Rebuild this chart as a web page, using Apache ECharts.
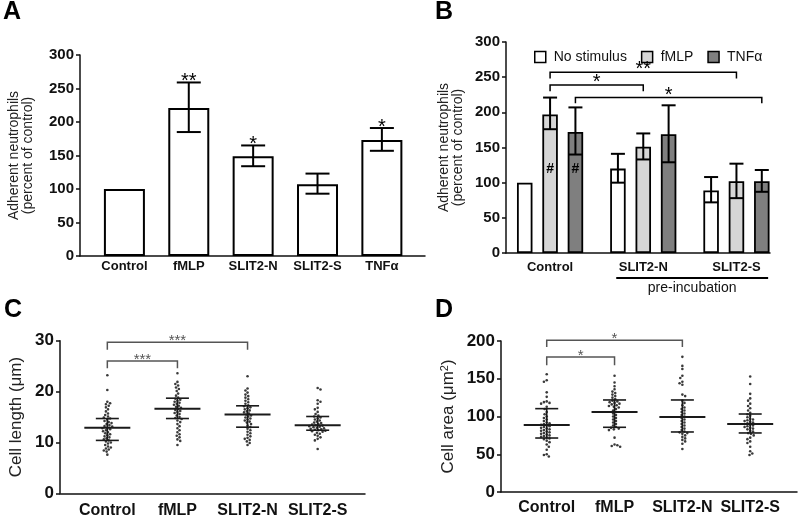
<!DOCTYPE html>
<html>
<head>
<meta charset="utf-8">
<script src="https://cdn.jsdelivr.net/npm/echarts@6/dist/echarts.min.js"></script>
<style>
  html, body { margin: 0; padding: 0; background: #fff; }
  #main { width: 800px; height: 523px; }
</style>
</head>
<body>
<div id="main"></div>
<script>
const FONT = '"Liberation Sans", Arial, sans-serif'

// ---- panel A: adherent neutrophils by stimulus ----
const catsA = ['Control', 'fMLP', 'SLIT2-N', 'SLIT2-S', 'TNFα']
const valuesA = [100, 221, 149, 107, 173]
const lowA = [null, 185, 134, 93, 157]
const highA = [null, 259, 165, 123, 191]
const starsA = ['', '**', '*', '', '*']

// ---- panel B: pre-incubation ----
const groupsB = ['Control', 'SLIT2-N', 'SLIT2-S']
const legendB = ['No stimulus', 'fMLP', 'TNFα']
const noStimB = [100, 120, 89]
const noStimLowB = [null, 100, 72]
const noStimHighB = [null, 141, 108]
const fmlpB = [197, 151, 102]
const fmlpLowB = [176, 133, 78]
const fmlpHighB = [221, 170, 127]
const tnfB = [172, 169, 102]
const tnfLowB = [140, 129, 87]
const tnfHighB = [207, 210, 118]
const hashB = [[0, 1, 119], [0, 2, 119]] // group, bar, y
// group from, bar from, group to, bar to, bracket y, tip y, text
const sigB = [
  [0, 1, 2, 1, 257, 248, '**'],
  [0, 1, 1, 1, 239, 230, '*'],
  [0, 2, 2, 2, 221, 213, '*'],
]
const preIncubation = [0.71, 2.34]

// ---- panel C: cell length ----
const catsC = ['Control', 'fMLP', 'SLIT2-N', 'SLIT2-S']
const lenControl = [23.2, 20.3, 18.0, 17.7, 17.5, 17.2, 16.9, 16.5, 16.1, 15.7, 15.4, 15.1, 14.9, 14.7, 14.5, 14.2, 14.0, 13.8, 13.6, 13.4, 13.2, 13.1, 12.9, 12.8, 12.6, 12.4, 12.2, 12.0, 11.8, 11.6, 11.4, 11.2, 11.0, 10.8, 10.6, 10.4, 10.2, 10.0, 9.8, 9.5, 9.2, 9.0, 8.8, 8.6, 8.4, 8.2, 7.6]
const lenFmlp = [23.6, 21.9, 21.5, 21.2, 20.8, 20.5, 20.1, 19.6, 19.2, 18.8, 18.6, 18.4, 18.2, 18.0, 17.8, 17.6, 17.4, 17.2, 17.0, 16.8, 16.6, 16.4, 16.2, 16.0, 15.8, 15.6, 15.3, 15.0, 14.8, 14.6, 14.3, 14.0, 13.6, 13.2, 12.8, 12.4, 12.0, 11.6, 11.3, 11.0, 10.6, 10.3, 9.5]
const lenSlitN = [23.0, 20.6, 20.2, 19.8, 19.4, 19.1, 18.8, 18.5, 18.2, 17.9, 17.6, 17.3, 17.1, 16.9, 16.7, 16.5, 16.3, 16.1, 15.9, 15.7, 15.5, 15.3, 15.1, 14.9, 14.7, 14.5, 14.3, 14.1, 13.9, 13.6, 13.3, 13.0, 12.7, 12.4, 12.1, 11.8, 11.5, 11.2, 10.9, 10.7, 10.5, 10.2, 9.9, 9.5]
const lenSlitS = [20.7, 20.4, 18.3, 18.0, 17.6, 16.8, 16.5, 16.0, 15.6, 15.3, 15.1, 14.9, 14.7, 14.5, 14.3, 14.1, 13.9, 13.8, 13.6, 13.5, 13.4, 13.3, 13.2, 13.1, 13.0, 12.9, 12.8, 12.7, 12.6, 12.5, 12.4, 12.3, 12.2, 12.1, 11.9, 11.7, 11.5, 11.3, 11.0, 10.7, 10.4, 8.7]
const meanC = [12.9, 16.6, 15.5, 13.4]
const sdLowC = [10.4, 14.7, 13.0, 12.4]
const sdHighC = [14.7, 18.7, 17.2, 15.1]
const sigC = [[0, 2, 29.7, 28.2, '***'], [0, 1, 26.0, 24.6, '***']]

// ---- panel D: cell area ----
const areaControl = [156, 148, 146, 132, 126, 120, 119, 118, 117, 113, 110, 106, 103, 100, 98, 96, 94, 92, 91, 90, 89, 88, 87, 86, 85, 84, 83, 82, 81, 80, 79, 78, 77, 76, 75, 74, 73, 72, 71, 70, 68, 66, 63, 60, 56, 50, 49, 47]
const areaFmlp = [154, 145, 140, 136, 133, 131, 129, 127, 125, 123, 121, 120, 119, 118, 117, 116, 115, 114, 113, 112, 110, 108, 106, 104, 102, 100, 98, 96, 94, 92, 90, 88, 86, 85, 84, 83, 82, 72, 63, 62, 61, 60]
const areaSlitN = [179, 167, 163, 154, 151, 146, 144, 142, 129, 127, 121, 118, 115, 112, 110, 108, 106, 104, 102, 100, 98, 96, 94, 92, 90, 88, 86, 84, 82, 80, 79, 78, 77, 75, 73, 71, 69, 67, 64, 57]
const areaSlitS = [153, 143, 130, 124, 121, 117, 114, 111, 108, 105, 103, 101, 99, 97, 96, 95, 94, 93, 92, 91, 90, 89, 88, 87, 86, 85, 84, 83, 81, 80, 78, 77, 75, 72, 70, 67, 65, 60, 54, 51, 49]
const meanD = [88.8, 106, 99.4, 90]
const sdLowD = [71.5, 85.7, 79.5, 78.2]
const sdHighD = [110.4, 121.9, 121.9, 103.3]
const sigD = [[0, 2, 200.9, 192, '*'], [0, 1, 178.8, 167.8, '*']]

// layout
const gridA = { left: 80, top: 55, width: 345, height: 201 }
const gridB = { left: 506, top: 42, width: 264, height: 211 }
const gridC = { left: 60, top: 340.7, width: 305, height: 152.6 }
const gridD = { left: 501, top: 341, width: 296, height: 151 }
const OFF_B = 0.272

// simple beeswarm: horizontal pixel offsets so dots do not overlap
function swarm(vals, pxPerUnit, d) {
  const placed = []
  return vals.map((v, i) => {
    const y = v * pxPerUnit
    let best = 0
    for (let k = 0; k < 60; k++) {
      const s = i % 2 ? 1 : -1
      const cands = k === 0 ? [0] : [s * k * 0.7, -s * k * 0.7]
      const ok = cands.find((x) => placed.every((p) => (p.x - x) ** 2 + (p.y - y) ** 2 >= d * d))
      if (ok !== undefined) { best = ok; break }
    }
    placed.push({ x: best, y })
    return best
  })
}

function dotData(groups, pxPerUnit) {
  const out = []
  groups.forEach((vals, g) => {
    const dx = swarm(vals, pxPerUnit, 2.9)
    vals.forEach((v, i) => out.push([g, v, dx[i]]))
  })
  return out
}

const dotsC = dotData([lenControl, lenFmlp, lenSlitN, lenSlitS], gridC.height / 30)
const dotsD = dotData([areaControl, areaFmlp, areaSlitN, areaSlitS], gridD.height / 200)

const renderDots = (params, api) => {
  const p = api.coord([api.value(0), api.value(1)])
  return {
    type: 'circle',
    shape: { cx: p[0] + api.value(2), cy: p[1], r: 1.3 },
    style: { fill: '#3a3a3a' },
  }
}

function errorRender(half, lw, color, texts, fontSize) {
  return (params, api) => {
    const x = api.value(0)
    const top = api.coord([x, api.value(2)])
    const bot = api.coord([x, api.value(1)])
    const st = { stroke: color, lineWidth: lw }
    const children = [
      { type: 'line', shape: { x1: top[0], y1: top[1], x2: bot[0], y2: bot[1] }, style: st },
      { type: 'line', shape: { x1: top[0] - half, y1: top[1], x2: top[0] + half, y2: top[1] }, style: st },
      { type: 'line', shape: { x1: bot[0] - half, y1: bot[1], x2: bot[0] + half, y2: bot[1] }, style: st },
    ]
    if (texts && texts[params.dataIndex]) {
      children.push({
        type: 'text',
        style: { text: texts[params.dataIndex], x: top[0], y: top[1] - 1, fill: '#000', fontSize, fontFamily: FONT, align: 'center', verticalAlign: 'middle' },
      })
    }
    return { type: 'group', children }
  }
}

function meanRender(params, api) {
  const x = api.value(0)
  const m = api.coord([x, api.value(1)])
  const lo = api.coord([x, api.value(2)])
  const hi = api.coord([x, api.value(3)])
  const st = { stroke: '#1a1a1a', lineWidth: 1.6 }
  return {
    type: 'group',
    children: [
      { type: 'line', shape: { x1: m[0] - 23, y1: m[1], x2: m[0] + 23, y2: m[1] }, style: { stroke: '#1a1a1a', lineWidth: 2 } },
      { type: 'line', shape: { x1: hi[0], y1: hi[1], x2: lo[0], y2: lo[1] }, style: st },
      { type: 'line', shape: { x1: hi[0] - 11.5, y1: hi[1], x2: hi[0] + 11.5, y2: hi[1] }, style: st },
      { type: 'line', shape: { x1: lo[0] - 11.5, y1: lo[1], x2: lo[0] + 11.5, y2: lo[1] }, style: st },
    ],
  }
}

function bracketRender(labels, color, fontSize, lw, lift) {
  return (params, api) => {
    const a = api.coord([api.value(0), api.value(2)])
    const b = api.coord([api.value(1), api.value(2)])
    const tip = api.coord([api.value(0), api.value(3)])
    const st = { stroke: color, lineWidth: lw, fill: null }
    return {
      type: 'group',
      children: [
        { type: 'polyline', shape: { points: [[a[0], tip[1]], a, b, [b[0], tip[1]]] }, style: st },
        {
          type: 'text',
          style: { text: labels[params.dataIndex], x: (a[0] + b[0]) / 2, y: a[1] - lift, fill: color, fontSize, fontFamily: FONT, align: 'center', verticalAlign: 'middle' },
        },
      ],
    }
  }
}

const errData = (low, high, pos) => low.map((lo, i) => (lo == null ? null : [pos(i), lo, high[i]])).filter(Boolean)

const barPos = (g, b) => g + (b - 1) * OFF_B

function yAxisBase(gridIndex, max, interval, fontSize) {
  return {
    type: 'value', gridIndex, min: 0, max, interval,
    axisLine: { show: true, onZero: false, lineStyle: { color: '#111', width: 1.5 } },
    axisTick: { show: true, length: 4, lineStyle: { color: '#111', width: 1.5 } },
    axisLabel: { fontFamily: FONT, fontWeight: 'bold', fontSize, color: '#111', margin: 6 },
    splitLine: { show: false },
    nameLocation: 'middle', nameRotate: 90,
  }
}

function xAxisBase(gridIndex, min, max, cats, fontSize, margin) {
  return {
    type: 'value', gridIndex, min, max,
    axisLine: { show: true, onZero: false, lineStyle: { color: '#111', width: 1.5 } },
    axisTick: { show: false },
    splitLine: { show: false },
    axisLabel: {
      customValues: cats.map((c, i) => i),
      formatter: (v) => cats[Math.round(v)],
      fontFamily: FONT, fontWeight: 'bold', fontSize, color: '#111', margin,
    },
  }
}

const chart = echarts.init(document.getElementById('main'))

const panelTitle = (text, left, top) => ({
  text, left, top, padding: 0,
  textStyle: { fontFamily: FONT, fontSize: 25, fontWeight: 'bold', color: '#000' },
})

const option = {
  animation: false,
  backgroundColor: '#fff',
  textStyle: { fontFamily: FONT },
  title: [panelTitle('A', 3, 0), panelTitle('B', 435, 0), panelTitle('C', 4, 298), panelTitle('D', 435, 298)],
  legend: {
    data: legendB, left: 529, top: 45, icon: 'rect', itemWidth: 11, itemHeight: 11, itemGap: 14,
    selectedMode: false,
    itemStyle: { borderColor: '#000', borderWidth: 1.5 },
    textStyle: { fontFamily: FONT, fontSize: 14, color: '#111', padding: [0, 0, 0, 3] },
  },
  grid: [gridA, gridB, gridC, gridD],
  xAxis: [
    xAxisBase(0, -0.69, 4.67, catsA, 13, 4),
    xAxisBase(1, -0.473, 2.36, groupsB, 13, 8),
    xAxisBase(2, -0.675, 3.675, catsC, 16, 9),
    xAxisBase(3, -0.674, 3.69, catsC, 16, 8),
  ],
  yAxis: [
    Object.assign(yAxisBase(0, 300, 50, 15), {
      name: 'Adherent neutrophils\n(percent of control)', nameGap: 45,
      nameTextStyle: { fontFamily: FONT, fontSize: 14, lineHeight: 14, color: '#222' },
    }),
    Object.assign(yAxisBase(1, 300, 50, 15), {
      name: 'Adherent neutrophils\n(percent of control)', nameGap: 41,
      nameTextStyle: { fontFamily: FONT, fontSize: 14, lineHeight: 14, color: '#222' },
    }),
    Object.assign(yAxisBase(2, 30, 10, 17), {
      name: 'Cell length (μm)', nameGap: 35,
      nameTextStyle: { fontFamily: FONT, fontSize: 17, color: '#222' },
    }),
    Object.assign(yAxisBase(3, 200, 50, 17), {
      name: 'Cell area (μm{sup|2})', nameGap: 44,
      nameTextStyle: {
        fontFamily: FONT, fontSize: 17, color: '#222',
        rich: { sup: { fontFamily: FONT, fontSize: 11, color: '#222', verticalAlign: 'top', padding: [0, 0, 7, 0] } },
      },
    }),
  ],
  series: [
    // A
    {
      type: 'bar', xAxisIndex: 0, yAxisIndex: 0, barWidth: 41,
      data: valuesA.map((v, i) => [i, v]),
      itemStyle: { color: '#fff', borderColor: '#000', borderWidth: 2 },
    },
    {
      type: 'custom', xAxisIndex: 0, yAxisIndex: 0, z: 5,
      data: errData(lowA, highA, (i) => i),
      renderItem: errorRender(12, 2, '#000', starsA.filter((s, i) => lowA[i] != null), 20),
    },
    // B
    {
      name: legendB[0], type: 'bar', xAxisIndex: 1, yAxisIndex: 1, barWidth: 15.5, barGap: '-100%',
      data: noStimB.map((v, g) => [barPos(g, 0), v]),
      itemStyle: { color: '#fff', borderColor: '#000', borderWidth: 1.8 },
    },
    {
      name: legendB[1], type: 'bar', xAxisIndex: 1, yAxisIndex: 1, barWidth: 15.5, barGap: '-100%',
      data: fmlpB.map((v, g) => [barPos(g, 1), v]),
      itemStyle: { color: '#d6d6d6', borderColor: '#000', borderWidth: 1.8 },
    },
    {
      name: legendB[2], type: 'bar', xAxisIndex: 1, yAxisIndex: 1, barWidth: 15.5, barGap: '-100%',
      data: tnfB.map((v, g) => [barPos(g, 2), v]),
      itemStyle: { color: '#7f7f7f', borderColor: '#000', borderWidth: 1.8 },
    },
    {
      type: 'custom', xAxisIndex: 1, yAxisIndex: 1, z: 5,
      data: [
        ...errData(noStimLowB, noStimHighB, (g) => barPos(g, 0)),
        ...errData(fmlpLowB, fmlpHighB, (g) => barPos(g, 1)),
        ...errData(tnfLowB, tnfHighB, (g) => barPos(g, 2)),
      ],
      renderItem: errorRender(7, 2, '#000'),
    },
    {
      type: 'custom', xAxisIndex: 1, yAxisIndex: 1, z: 6,
      data: hashB.map((h) => [barPos(h[0], h[1]), h[2]]),
      renderItem: (params, api) => {
        const p = api.coord([api.value(0), api.value(1)])
        return { type: 'text', style: { text: '#', x: p[0], y: p[1], fill: '#000', fontSize: 14, fontWeight: 'bold', fontFamily: FONT, align: 'center', verticalAlign: 'middle' } }
      },
    },
    {
      type: 'custom', xAxisIndex: 1, yAxisIndex: 1, z: 6,
      data: sigB.map((s) => [barPos(s[0], s[1]), barPos(s[2], s[3]), s[4], s[5]]),
      renderItem: bracketRender(sigB.map((s) => s[6]), '#000', 20, 1.5, 2.5),
    },
    {
      type: 'custom', xAxisIndex: 1, yAxisIndex: 1, z: 6,
      data: [[preIncubation[0], preIncubation[1], 0]],
      renderItem: (params, api) => {
        const a = api.coord([api.value(0), api.value(2)])
        const b = api.coord([api.value(1), api.value(2)])
        return {
          type: 'group',
          children: [
            { type: 'line', shape: { x1: a[0], y1: a[1] + 25, x2: b[0], y2: b[1] + 25 }, style: { stroke: '#000', lineWidth: 1.8 } },
            { type: 'text', style: { text: 'pre-incubation', x: (a[0] + b[0]) / 2, y: a[1] + 35.5, fill: '#111', fontSize: 14, fontFamily: FONT, align: 'center', verticalAlign: 'middle' } },
          ],
        }
      },
    },
    // C
    { type: 'custom', xAxisIndex: 2, yAxisIndex: 2, data: dotsC, renderItem: renderDots },
    {
      type: 'custom', xAxisIndex: 2, yAxisIndex: 2, z: 5,
      data: meanC.map((m, g) => [g, m, sdLowC[g], sdHighC[g]]),
      renderItem: meanRender,
    },
    {
      type: 'custom', xAxisIndex: 2, yAxisIndex: 2, z: 5,
      data: sigC.map((s) => [s[0], s[1], s[2], s[3]]),
      renderItem: bracketRender(sigC.map((s) => s[4]), '#555', 15, 1.5, 1),
    },
    // D
    { type: 'custom', xAxisIndex: 3, yAxisIndex: 3, data: dotsD, renderItem: renderDots },
    {
      type: 'custom', xAxisIndex: 3, yAxisIndex: 3, z: 5,
      data: meanD.map((m, g) => [g, m, sdLowD[g], sdHighD[g]]),
      renderItem: meanRender,
    },
    {
      type: 'custom', xAxisIndex: 3, yAxisIndex: 3, z: 5,
      data: sigD.map((s) => [s[0], s[1], s[2], s[3]]),
      renderItem: bracketRender(sigD.map((s) => s[4]), '#555', 15, 1.5, 1),
    },
  ],
}

chart.setOption(option)
</script>
</body>
</html>
